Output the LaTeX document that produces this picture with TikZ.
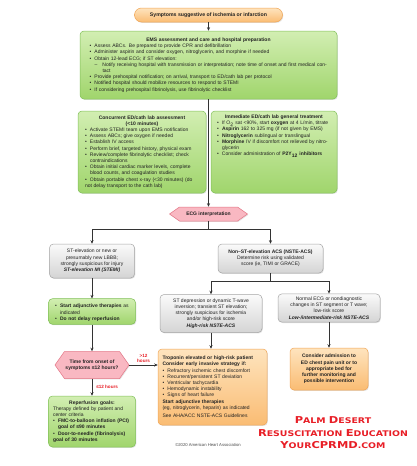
\documentclass[tikz,border=0pt]{standalone}
\usepackage{fontspec}
\setmainfont{Liberation Sans}
\newfontfamily\pdfont{DejaVu Sans}
\usetikzlibrary{shapes.symbols,shadows,arrows.meta}
\definecolor{grnT}{RGB}{210,238,178}
\definecolor{grnB}{RGB}{160,213,108}
\definecolor{grnD}{RGB}{128,192,88}
\definecolor{orgT}{RGB}{254,228,190}
\definecolor{orgB}{RGB}{250,188,115}
\definecolor{orgD}{RGB}{240,165,85}
\definecolor{gryT}{RGB}{250,250,250}
\definecolor{gryB}{RGB}{212,212,212}
\definecolor{gryD}{RGB}{165,165,165}
\definecolor{pnkF}{RGB}{249,184,194}
\definecolor{pnkD}{RGB}{228,118,134}
\definecolor{pdred}{RGB}{232,30,38}
\definecolor{txt}{RGB}{34,34,34}
\newcommand\fs{\fontsize{5}{6.2}\selectfont}
\newcommand\itm{\par\hangindent=5pt\hangafter=1\noindent\makebox[5pt][l]{\textbullet}}
\newcommand\sitm{\par\hangindent=13pt\hangafter=1\noindent\hspace*{5pt}\makebox[8pt][l]{--}}
\newcommand\Lg[1]{{\fontsize{9.5}{10}\selectfont #1}}
\tikzset{
  box/.style={draw, rounded corners=4pt, line width=0.5pt,
    drop shadow={opacity=0.22, shadow xshift=0.8pt, shadow yshift=-0.9pt},
    inner sep=3pt, align=left, font=\fs, text=txt},
  greenbox/.style={box, draw=grnD, top color=grnT, bottom color=grnB},
  orangebox/.style={box, draw=orgD, top color=orgT, bottom color=orgB},
  graybox/.style={box, draw=gryD, top color=gryT, bottom color=gryB},
  hexa/.style={draw=pnkD, fill=pnkF, line width=0.5pt, signal, signal to=west and east,
    drop shadow={opacity=0.22, shadow xshift=0.8pt, shadow yshift=-0.9pt},
    inner sep=1pt, align=center, font=\fs\bfseries, text=txt},
  pill/.style={draw=orgD, rounded corners=7pt, top color=orgT, bottom color=orgB, line width=0.5pt,
    drop shadow={opacity=0.22, shadow xshift=0.8pt, shadow yshift=-0.9pt},
    font=\fontsize{5.2}{6}\selectfont\bfseries, text=txt},
  arr/.style={-{Stealth[length=3.5pt,width=3pt]}, line width=0.5pt, draw=black!80},
  ln/.style={line width=0.5pt, draw=black!80},
  redlbl/.style={font=\fontsize{4.6}{5.2}\selectfont\bfseries, text=pdred, align=center, inner sep=1pt}
}
\begin{document}
\begin{tikzpicture}[x=1pt,y=-1pt]
\useasboundingbox[fill=white] (0,0) rectangle (416,466);

\node[pill, minimum width=148pt, minimum height=14pt] (sym) at (208.5,15) {Symptoms suggestive of ischemia or infarction};

\node[greenbox, minimum width=257pt, minimum height=68pt, text width=238pt] (ems) at (208.5,65) {%
{\centering\bfseries EMS assessment and care and hospital preparation\par}
\itm Assess ABCs. Be prepared to provide CPR and defibrillation
\itm Administer aspirin and consider oxygen, nitroglycerin, and morphine if needed
\itm Obtain 12-lead ECG; if ST elevation:
\sitm Notify receiving hospital with transmission or interpretation; note time of onset and first medical contact
\itm Provide prehospital notification; on arrival, transport to ED/cath lab per protocol
\itm Notified hospital should mobilize resources to respond to STEMI
\itm If considering prehospital fibrinolysis, use fibrinolytic checklist};

\node[greenbox, minimum width=128pt, minimum height=82pt, text width=114pt] (conc) at (142,152) {%
{\centering\bfseries Concurrent ED/cath lab assessment\\(<10 minutes)\par}
\itm Activate STEMI team upon EMS notification
\itm Assess ABCs; give oxygen if needed
\itm Establish IV access
\itm Perform brief, targeted history, physical exam
\itm Review/complete fibrinolytic checklist; check contraindications
\itm Obtain initial cardiac marker levels, complete blood counts, and coagulation studies
\itm Obtain portable chest x-ray (<30 minutes) (do not delay transport to the cath lab)};

\node[greenbox, minimum width=126pt, minimum height=82pt] (imm) at (274,152) {};
\node[anchor=north, text width=114pt, align=left, font=\fs, text=txt, inner sep=4pt] (immtxt) at (imm.north) {%
{\centering\bfseries Immediate ED/cath lab general treatment\par}
\itm If O\textsubscript{2} sat <90\%, start \textbf{oxygen} at 4 L/min, titrate
\itm \textbf{Aspirin} 162 to 325 mg (if not given by EMS)
\itm \textbf{Nitroglycerin} sublingual or translingual
\itm \textbf{Morphine} IV if discomfort not relieved by nitroglycerin
\itm Consider administration of \textbf{P2Y\textsubscript{12} inhibitors}};

\node[hexa, minimum width=78pt, minimum height=14pt, signal pointer angle=70] (ecg) at (208.5,214) {ECG interpretation};

\node[graybox, minimum width=85pt, minimum height=34pt, align=center] (stemi) at (92,261) {%
ST-elevation or new or\\presumably new LBBB;\\strongly suspicious for injury\\\textbf{\textit{ST-elevation MI (STEMI)}}};

\node[graybox, minimum width=105pt, minimum height=29pt, align=center] (nste) at (270.5,258.5) {%
\textbf{Non--ST-elevation ACS (NSTE-ACS)}\\Determine risk using validated\\score (ie, TIMI or GRACE)};

\node[graybox, minimum width=102pt, minimum height=38pt, align=center] (high) at (211,313.5) {%
ST depression or dynamic T-wave\\inversion; transient ST elevation;\\strongly suspicious for ischemia\\and/or high-risk score\\\textbf{\textit{High-risk NSTE-ACS}}};

\node[graybox, minimum width=102pt, minimum height=28pt, align=center] (low) at (329,308) {%
Normal ECG or nondiagnostic\\changes in ST segment or T wave;\\low-risk score\\\textbf{\textit{Low-/intermediate-risk NSTE-ACS}}};

\node[greenbox, minimum width=87pt, minimum height=23pt, text width=74pt] (adj) at (92,311.5) {%
\itm \textbf{Start adjunctive therapies} as indicated
\itm \textbf{Do not delay reperfusion}};

\node[hexa, minimum width=74pt, minimum height=27pt, signal pointer angle=110] (time) at (92,365) {%
Time from onset of\\symptoms ≤12 hours?};

\node[greenbox, minimum width=87pt, minimum height=51pt, text width=78pt] (rep) at (92,421.5) {%
{\centering\bfseries Reperfusion goals:\par}
Therapy defined by patient and center criteria
\itm \textbf{FMC-to-balloon inflation (PCI) goal of ≤90 minutes}
\itm \textbf{Door-to-needle (fibrinolysis) goal of 30 minutes}};

\node[orangebox, minimum width=109pt, minimum height=76pt, text width=100pt] (trop) at (212.5,387) {%
{\bfseries Troponin elevated or high-risk patient\par
Consider early invasive strategy if:\par}
\itm Refractory ischemic chest discomfort
\itm Recurrent/persistent ST deviation
\itm Ventricular tachycardia
\itm Hemodynamic instability
\itm Signs of heart failure\par
{\bfseries Start adjunctive therapies\par}
(eg, nitroglycerin, heparin) as indicated\par\vspace{2.5pt}
See AHA/ACC NSTE-ACS Guidelines};

\node[orangebox, minimum width=78pt, minimum height=42pt, align=center, font=\fs\bfseries] (adm) at (329,369) {%
Consider admission to\\ED chest pain unit or to\\appropriate bed for\\further monitoring and\\possible intervention};

% connectors
\draw[arr] (sym) -- (ems);
\draw[arr] (ems.south) -- (ecg.north);
\coordinate (j1) at (208.5,229);
\draw[ln] (ecg.south) -- (j1);
\draw[arr] (j1) -| (stemi.north);
\draw[arr] (j1) -| (nste.north);
\coordinate (j2) at (270.5,281);
\draw[ln] (nste.south) -- (j2);
\draw[arr] (j2) -| (high.north);
\draw[arr] (j2) -| (low.north);
\draw[arr] (stemi.south) -- (adj.north);
\draw[arr] (adj.south) -- (time.north);
\draw[arr] (time.south) -- node[redlbl, right=3pt, pos=0.45] (le12) {≤12 hours} (rep.north);
\draw[arr] (time.east) -- node[redlbl, above=1pt] (gt12) {>12\\hours} (time.east -| trop.west);
\draw[arr] (high.south) -- (high.south |- trop.north);
\draw[arr] (low.south) -- (adm.north);

\node[font=\fontsize{4.2}{5}\selectfont, text=black!70] (copy) at (208,445) {©2020 American Heart Association};

\node[font=\pdfont\bfseries\fontsize{7.8}{12.5}\selectfont, text=pdred, align=center, inner sep=0pt] (pd) at (333,433) {%
\scalebox{1.2}[1]{\Lg{P}ALM \Lg{D}ESERT}\\
\scalebox{1.2}[1]{\Lg{R}ESUSCITATION \Lg{E}DUCATION}\\
\scalebox{1.2}[1]{\Lg{Y}OUR\Lg{CPRMD}.COM}};
\end{tikzpicture}
\end{document}
